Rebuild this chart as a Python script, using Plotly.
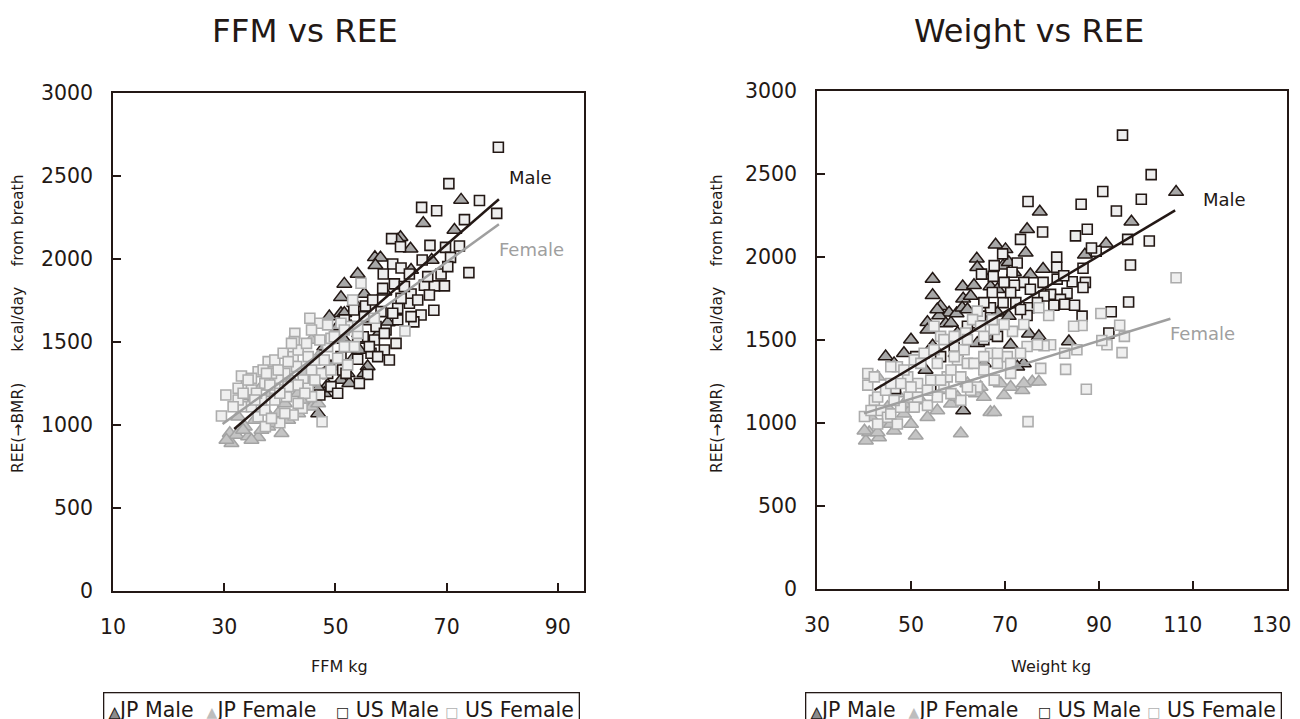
import plotly.graph_objects as go

# ---- data ----
# FFM vs REE
ffm_jp_male = [72.6, 65.8, 71.4, 61.7, 63.5, 57.1, 58.1, 57.2, 67.3, 54.0, 51.6, 51.0, 55.2, 58.8, 51.0,
               48.9, 53.4, 56.1, 58.2, 57.6, 55.5, 53.4, 55.8, 52.2, 51.0, 48.6, 48.0, 46.9, 52.5, 55.2,
               59.4, 48.0, 51.6, 54.3, 50.4, 52.8, 48.0, 49.2, 51.6, 54.3, 51.6, 46.9, 61.2, 63.6]
ree_jp_male = [2356, 2215, 2175, 2131, 2062, 2010, 2008, 1962, 1994, 1910, 1850, 1769, 1789, 1803, 1673,
               1653, 1733, 1623, 1568, 1542, 1512, 1412, 1352, 1311, 1271, 1241, 1191, 1070, 1251, 1311,
               1617, 1311, 1512, 1552, 1593, 1593, 1472, 1352, 1352, 1452, 1673, 1221, 2115, 1934]

ffm_jp_female = [31.0, 31.3, 32.2, 34.3, 36.1, 40.3, 33.7, 35.5, 37.3, 37.9, 39.7, 40.9, 43.3, 45.7, 44.5,
                 46.9, 38.5, 36.7, 42.1, 34.3, 45.7, 34.9, 46.9, 43.3, 32.5, 33.4, 30.4, 34.9, 36.7, 39.1,
                 41.5, 43.9, 45.1]
ree_jp_female = [950, 890, 940, 930, 926, 950, 990, 1030, 1090, 990, 1070, 1130, 1191, 1512, 1311,
                 1412, 1191, 1231, 1271, 1110, 1110, 1171, 1130, 1070, 1050, 970, 910, 910, 970, 1010,
                 1030, 1151, 1251]

ffm_us_male = [79.3, 70.4, 75.9, 65.5, 68.2, 79.0, 73.2, 60.1, 61.7, 67.0, 69.8, 72.3, 70.7, 65.6, 60.3,
               61.8, 74.0, 69.0, 63.3, 58.6, 60.6, 66.0, 69.6, 67.8, 63.6, 66.9, 58.5, 55.4, 63.3, 61.2,
               65.4, 67.7, 64.1, 61.2, 59.1, 60.9, 58.8, 59.7, 56.4, 54.0, 51.3, 55.8, 52.8, 53.3, 57.3,
               58.2, 49.2, 47.2, 57.0, 55.0, 51.6, 48.6, 51.0, 61.8, 54.0, 56.1, 57.6, 55.2, 60.3, 62.4,
               64.8, 63.6, 51.9, 54.3, 50.4, 58.8, 56.7, 66.6, 70.2]
ree_us_male = [2673, 2454, 2352, 2311, 2291, 2275, 2237, 2123, 2074, 2082, 2070, 2078, 2010, 1994, 1970,
               1946, 1918, 1910, 1910, 1910, 1850, 1842, 1838, 1838, 1789, 1783, 1823, 1717, 1733, 1703,
               1663, 1691, 1621, 1633, 1572, 1492, 1452, 1392, 1432, 1396, 1331, 1305, 1472, 1693, 1593,
               1683, 1231, 1181, 1512, 1532, 1633, 1311, 1412, 1763, 1532, 1472, 1412, 1653, 1673, 1834,
               1753, 1653, 1311, 1251, 1191, 1552, 1753, 1894, 1954]

ffm_us_female = [30.3, 29.5, 33.1, 34.0, 36.1, 37.9, 39.1, 40.6, 42.4, 42.7, 42.6, 45.4, 47.2, 45.7, 48.6,
                 51.0, 52.8, 53.1, 54.6, 54.0, 57.0, 62.5, 51.6, 48.6, 50.4, 47.5, 45.7, 44.2, 40.9, 39.7,
                 38.5, 37.3, 34.9, 33.4, 34.9, 36.1, 37.3, 39.1, 41.2, 43.3, 45.1, 45.7, 44.0, 42.4, 40.0,
                 37.4, 47.6, 41.5, 43.0, 46.4, 49.2, 52.2, 53.4, 36.7, 39.1, 34.9, 32.5, 47.2, 49.2, 31.6,
                 32.5, 34.3, 35.8, 37.0, 38.2, 39.7, 40.0, 41.5, 43.3, 44.8, 44.5, 40.9, 38.5, 35.5, 46.3,
                 48.0, 49.8, 51.6, 54.0, 43.3, 33.4, 37.6, 42.1, 45.1]
ree_us_female = [1181, 1054, 1295, 1235, 1321, 1382, 1392, 1432, 1412, 1552, 1502, 1643, 1613, 1572, 1603,
                 1613, 1593, 1753, 1854, 1552, 1643, 1566, 1572, 1472, 1402, 1311, 1331, 1271, 1311, 1271,
                 1311, 1251, 1211, 1110, 1110, 1050, 1090, 1151, 1171, 1241, 1221, 1171, 1101, 1060, 1014,
                 990, 1020, 1231, 1352, 1392, 1331, 1362, 1472, 1151, 1221, 1281, 1151, 1512, 1522, 1110,
                 1221, 1271, 1191, 1331, 1241, 1331, 1191, 1382, 1452, 1492, 1191, 1070, 1040, 1151, 1271,
                 1392, 1532, 1472, 1593, 1130, 1191, 1311, 1492, 1412]

# Weight vs REE
wt_jp_male = [106.4, 77.4, 96.9, 74.7, 91.5, 68.0, 70.1, 74.4, 87.0, 64.0, 69.6, 70.8, 64.1, 75.4, 78.1,
              54.6, 61.0, 63.4, 66.9, 54.6, 61.1, 56.3, 58.1, 59.7, 56.0, 53.5, 57.4, 60.9, 65.5, 68.4,
              70.8, 75.1, 77.2, 83.6, 44.6, 48.5, 54.6, 59.9, 64.1, 67.6, 71.2, 74.0, 61.1, 59.5, 53.1,
              65.5, 72.6, 55.6, 58.5, 53.5, 50.0, 62.7, 65.5, 68.4, 71.9, 62.0, 46.4]
rw_jp_male = [2391, 2273, 2212, 2167, 2080, 2074, 2046, 2025, 2013, 1989, 1948, 1968, 1938, 1895, 1928,
              1867, 1822, 1830, 1822, 1769, 1749, 1704, 1664, 1660, 1648, 1607, 1599, 1694, 1623, 1664,
              1644, 1538, 1522, 1491, 1400, 1420, 1465, 1542, 1481, 1522, 1471, 1359, 1075, 1420, 1319,
              1359, 1339, 1684, 1603, 1562, 1502, 1765, 1887, 1806, 1908, 1684, 1359]

wt_jp_female = [40.4, 41.1, 43.2, 46.4, 51.0, 60.6, 66.9, 67.7, 69.8, 73.7, 75.8, 77.2, 42.9, 45.0, 48.5,
                50.0, 52.1, 57.0, 62.0, 64.8, 69.1, 41.5, 47.1, 53.5, 58.5, 50.0, 44.6, 63.8, 40.1, 42.9,
                45.7, 48.5, 55.6, 59.9, 65.5, 71.2, 74.0]
rw_jp_female = [893, 943, 913, 953, 923, 937, 1065, 1065, 1167, 1197, 1248, 1248, 1278, 1095, 1055,
                1085, 1136, 1197, 1238, 1217, 1238, 1035, 1177, 1035, 1116, 994, 994, 1177, 953, 943,
                994, 1116, 1075, 1156, 1156, 1217, 1238]

wt_us_male = [95.0, 101.1, 90.8, 99.0, 74.9, 93.7, 86.2, 78.0, 87.5, 85.0, 73.3, 100.7, 96.1, 89.4, 88.4,
              69.5, 81.0, 96.7, 72.6, 81.0, 71.5, 65.0, 67.5, 86.6, 87.1, 74.0, 72.0, 78.1, 84.3, 86.6,
              79.7, 83.2, 81.8, 67.3, 69.6, 72.3, 75.1, 82.7, 84.8, 96.3, 80.4, 92.6, 86.4, 74.7, 92.1,
              46.7, 54.2, 51.0, 66.9, 63.4, 65.5, 68.4, 65.5, 71.2, 75.4, 78.3, 81.1, 82.5, 69.8, 73.3,
              76.9, 67.7, 64.8, 62.0, 59.2, 56.3]
rw_us_male = [2734, 2496, 2395, 2348, 2334, 2277, 2318, 2151, 2167, 2127, 2106, 2096, 2106, 2035, 2054,
              2019, 1999, 1952, 1964, 1938, 1908, 1897, 1883, 1932, 1847, 1847, 1830, 1847, 1851, 1816,
              1775, 1782, 1745, 1786, 1725, 1725, 1694, 1715, 1709, 1729, 1709, 1670, 1644, 1648, 1542,
              1207, 1197, 1400, 1694, 1603, 1502, 1522, 1725, 1786, 1806, 1765, 1867, 1887, 1847, 1684,
              1725, 1948, 1644, 1583, 1461, 1400]

wt_us_female = [106.4, 74.9, 87.3, 94.9, 95.4, 94.4, 91.7, 90.6, 90.4, 86.4, 84.6, 82.9, 82.7, 85.3, 79.7,
                78.3, 76.9, 74.7, 77.6, 79.3, 77.2, 74.0, 71.6, 69.8, 67.7, 65.5, 64.1, 63.1, 61.6, 59.2,
                56.3, 54.9, 50.7, 52.8, 55.6, 59.9, 62.0, 65.5, 68.4, 70.5, 73.3, 67.7, 64.1, 62.7, 60.6,
                57.0, 54.2, 51.4, 49.3, 47.1, 45.7, 40.8, 40.8, 42.2, 43.6, 40.1, 45.0, 47.1, 50.7, 53.5,
                55.6, 58.5, 62.0, 42.9, 44.6, 47.8, 49.6, 57.7, 61.3, 66.9, 71.2, 41.5, 42.9, 45.7, 47.8,
                51.4, 53.5, 56.3, 58.5, 60.6, 63.4, 65.5, 68.4, 71.2, 45.7, 48.5, 52.1, 54.9, 57.0, 59.2,
                62.0, 64.8, 67.3, 46.4, 50.0, 42.2]
rw_us_female = [1875, 1008, 1203, 1424, 1522, 1589, 1471, 1497, 1660, 1587, 1583, 1323, 1420, 1441, 1471,
                1465, 1471, 1461, 1329, 1648, 1694, 1593, 1552, 1593, 1563, 1522, 1674, 1623, 1542, 1522,
                1522, 1583, 1380, 1420, 1359, 1380, 1359, 1319, 1359, 1400, 1420, 1258, 1217, 1197, 1136,
                1217, 1258, 1238, 1278, 1339, 1339, 1298, 1228, 1136, 1075, 1039, 1035, 994, 1096, 1106,
                1157, 1177, 1217, 1157, 1197, 1238, 1157, 1278, 1441, 1420, 1299, 1075, 994, 1055, 1095,
                1156, 1197, 1258, 1319, 1278, 1359, 1400, 1420, 1359, 1238, 1319, 1359, 1441, 1502, 1400,
                1502, 1583, 1623, 1136, 1217, 1278]

# regression lines (end points)
ffm_fit_male, ree_fit_male = [31.8, 79.4], [976, 2360]
ffm_fit_female, ree_fit_female = [29.7, 79.4], [1006, 2209]
wt_fit_male, rw_fit_male = [42.2, 106.2], [1199, 2281]
wt_fit_female, rw_fit_female = [40.0, 105.2], [1058, 1628]

x_ticks_ffm = [10, 30, 50, 70, 90]
x_ticks_wt = [30, 50, 70, 90, 110, 130]
x_labels_wt = ["30", "50", "70", "90", "110\u2003", "130\u2003\u2002"]
y_ticks = [0, 500, 1000, 1500, 2000, 2500, 3000]

INK = "#231815"
GRAY = "#9f9f9f"
FONT = "DejaVu Sans"

W, H, OFF = 1300, 719, 8  # page body has an 8px margin


def fx(px):
    return (px - OFF) / W


def fy(py):
    return 1 - (py - OFF) / H


styles = {
    "JP Male": dict(symbol="triangle-up", size=13, color="#a8a8a8", line=dict(color=INK, width=1.5)),
    "JP Female": dict(symbol="triangle-up", size=13, color="#c4c4c4", line=dict(color="#a3a3a3", width=1.5)),
    "US Male": dict(symbol="square", size=10, color="#eeeeee", line=dict(color=INK, width=1.6)),
    "US Female": dict(symbol="square", size=10, color="#efefef", line=dict(color="#acacac", width=1.6)),
}

fig = go.Figure()

panels = [
    ("x", "y", [(ffm_jp_male, ree_jp_male, "JP Male"), (ffm_jp_female, ree_jp_female, "JP Female"),
                (ffm_us_male, ree_us_male, "US Male"), (ffm_us_female, ree_us_female, "US Female")],
     (ffm_fit_male, ree_fit_male), (ffm_fit_female, ree_fit_female)),
    ("x2", "y2", [(wt_jp_male, rw_jp_male, "JP Male"), (wt_jp_female, rw_jp_female, "JP Female"),
                  (wt_us_male, rw_us_male, "US Male"), (wt_us_female, rw_us_female, "US Female")],
     (wt_fit_male, rw_fit_male), (wt_fit_female, rw_fit_female)),
]

for xa, ya, series, fit_m, fit_f in panels:
    for xs, ys, name in series:
        fig.add_trace(go.Scatter(x=xs, y=ys, mode="markers", name=name, xaxis=xa, yaxis=ya,
                                 marker=styles[name], showlegend=False))
    fig.add_trace(go.Scatter(x=fit_f[0], y=fit_f[1], mode="lines", xaxis=xa, yaxis=ya,
                             line=dict(color=GRAY, width=2.5), showlegend=False))
    fig.add_trace(go.Scatter(x=fit_m[0], y=fit_m[1], mode="lines", xaxis=xa, yaxis=ya,
                             line=dict(color=INK, width=2.5), showlegend=False))

axis_common = dict(showline=True, linecolor=INK, linewidth=1.5, mirror=True, ticks="inside",
                   ticklen=8, tickcolor=INK, tickwidth=1.5, showgrid=False, zeroline=False,
                   tickfont=dict(size=20.5, color=INK, family=FONT))

fig.update_layout(
    width=W, height=H,
    margin=dict(l=0, r=0, t=0, b=0, autoexpand=False),
    plot_bgcolor="white", paper_bgcolor="white",
    font=dict(family=FONT, color=INK),
    showlegend=False,
    xaxis=dict(domain=[fx(113), fx(584)], range=[10, 94.7], tickvals=x_ticks_ffm,
               ticklabelstandoff=17, anchor="y", **axis_common),
    yaxis=dict(domain=[fy(591), fy(93)], range=[0, 3000], tickvals=y_ticks,
               ticklabelstandoff=14, anchor="x", **axis_common),
    xaxis2=dict(domain=[fx(817), fx(1287)], range=[30, 130], tickvals=x_ticks_wt,
                ticktext=x_labels_wt, ticklabeloverflow="allow",
                ticklabelstandoff=17, anchor="y2", **axis_common),
    yaxis2=dict(domain=[fy(589), fy(91)], range=[0, 3000], tickvals=y_ticks,
                ticklabelstandoff=14, anchor="x2", **axis_common),
)

notes = [
    ("FFM vs REE", 305, 31, 32.5),
    ("Weight vs REE", 1029, 31, 32),
    ("FFM kg", 339, 666, 16),
    ("Weight kg", 1051, 666, 16),
]
for text, px, py, size in notes:
    fig.add_annotation(text=text, x=fx(px), y=fy(py), xref="paper", yref="paper",
                       showarrow=False, xanchor="center", yanchor="middle",
                       font=dict(size=size, color=INK))

ytitle = "REE(→BMR)\u2003\u2003kcal/day\u2003 from breath"
for px in (18, 717):
    fig.add_annotation(text=ytitle, x=fx(px), y=fy(324), xref="paper", yref="paper",
                       showarrow=False, textangle=-90, xanchor="center", yanchor="middle",
                       font=dict(size=15.5, color=INK))

# line labels
fig.add_annotation(text="Male", x=85.0, y=2494, xref="x", yref="y", showarrow=False,
                   font=dict(size=18, color=INK))
fig.add_annotation(text="Female", x=85.3, y=2060, xref="x", yref="y", showarrow=False,
                   font=dict(size=18, color=GRAY))
fig.add_annotation(text="Male", x=116.8, y=2348, xref="x2", yref="y2", showarrow=False,
                   font=dict(size=18, color=INK))
fig.add_annotation(text="Female", x=112.0, y=1539, xref="x2", yref="y2", showarrow=False,
                   font=dict(size=18, color=GRAY))

# legend boxes (one under each panel)
tri_m = '<span style="font-size:14px;color:#8c8c8c;stroke:#231815;stroke-width:1px">▲</span>'
tri_f = '<span style="font-size:14px;color:#bdbdbd">▲</span>'
sq_m = '<span style="font-size:14px;color:#231815">□</span>'
sq_f = '<span style="font-size:14px;color:#b0b0b0">□</span>'
legend_text = (tri_m + "JP Male  " + tri_f + "JP Female   " + sq_m + " US Male " + sq_f + " US Female")
for px in (103, 805):
    fig.add_annotation(text=legend_text, x=fx(px), y=fy(692), xref="paper", yref="paper",
                       showarrow=False, xanchor="left", yanchor="top", align="left",
                       bordercolor=INK, borderwidth=1.3, borderpad=5,
                       font=dict(size=20.5, color=INK))

fig.write_html("out.html")
